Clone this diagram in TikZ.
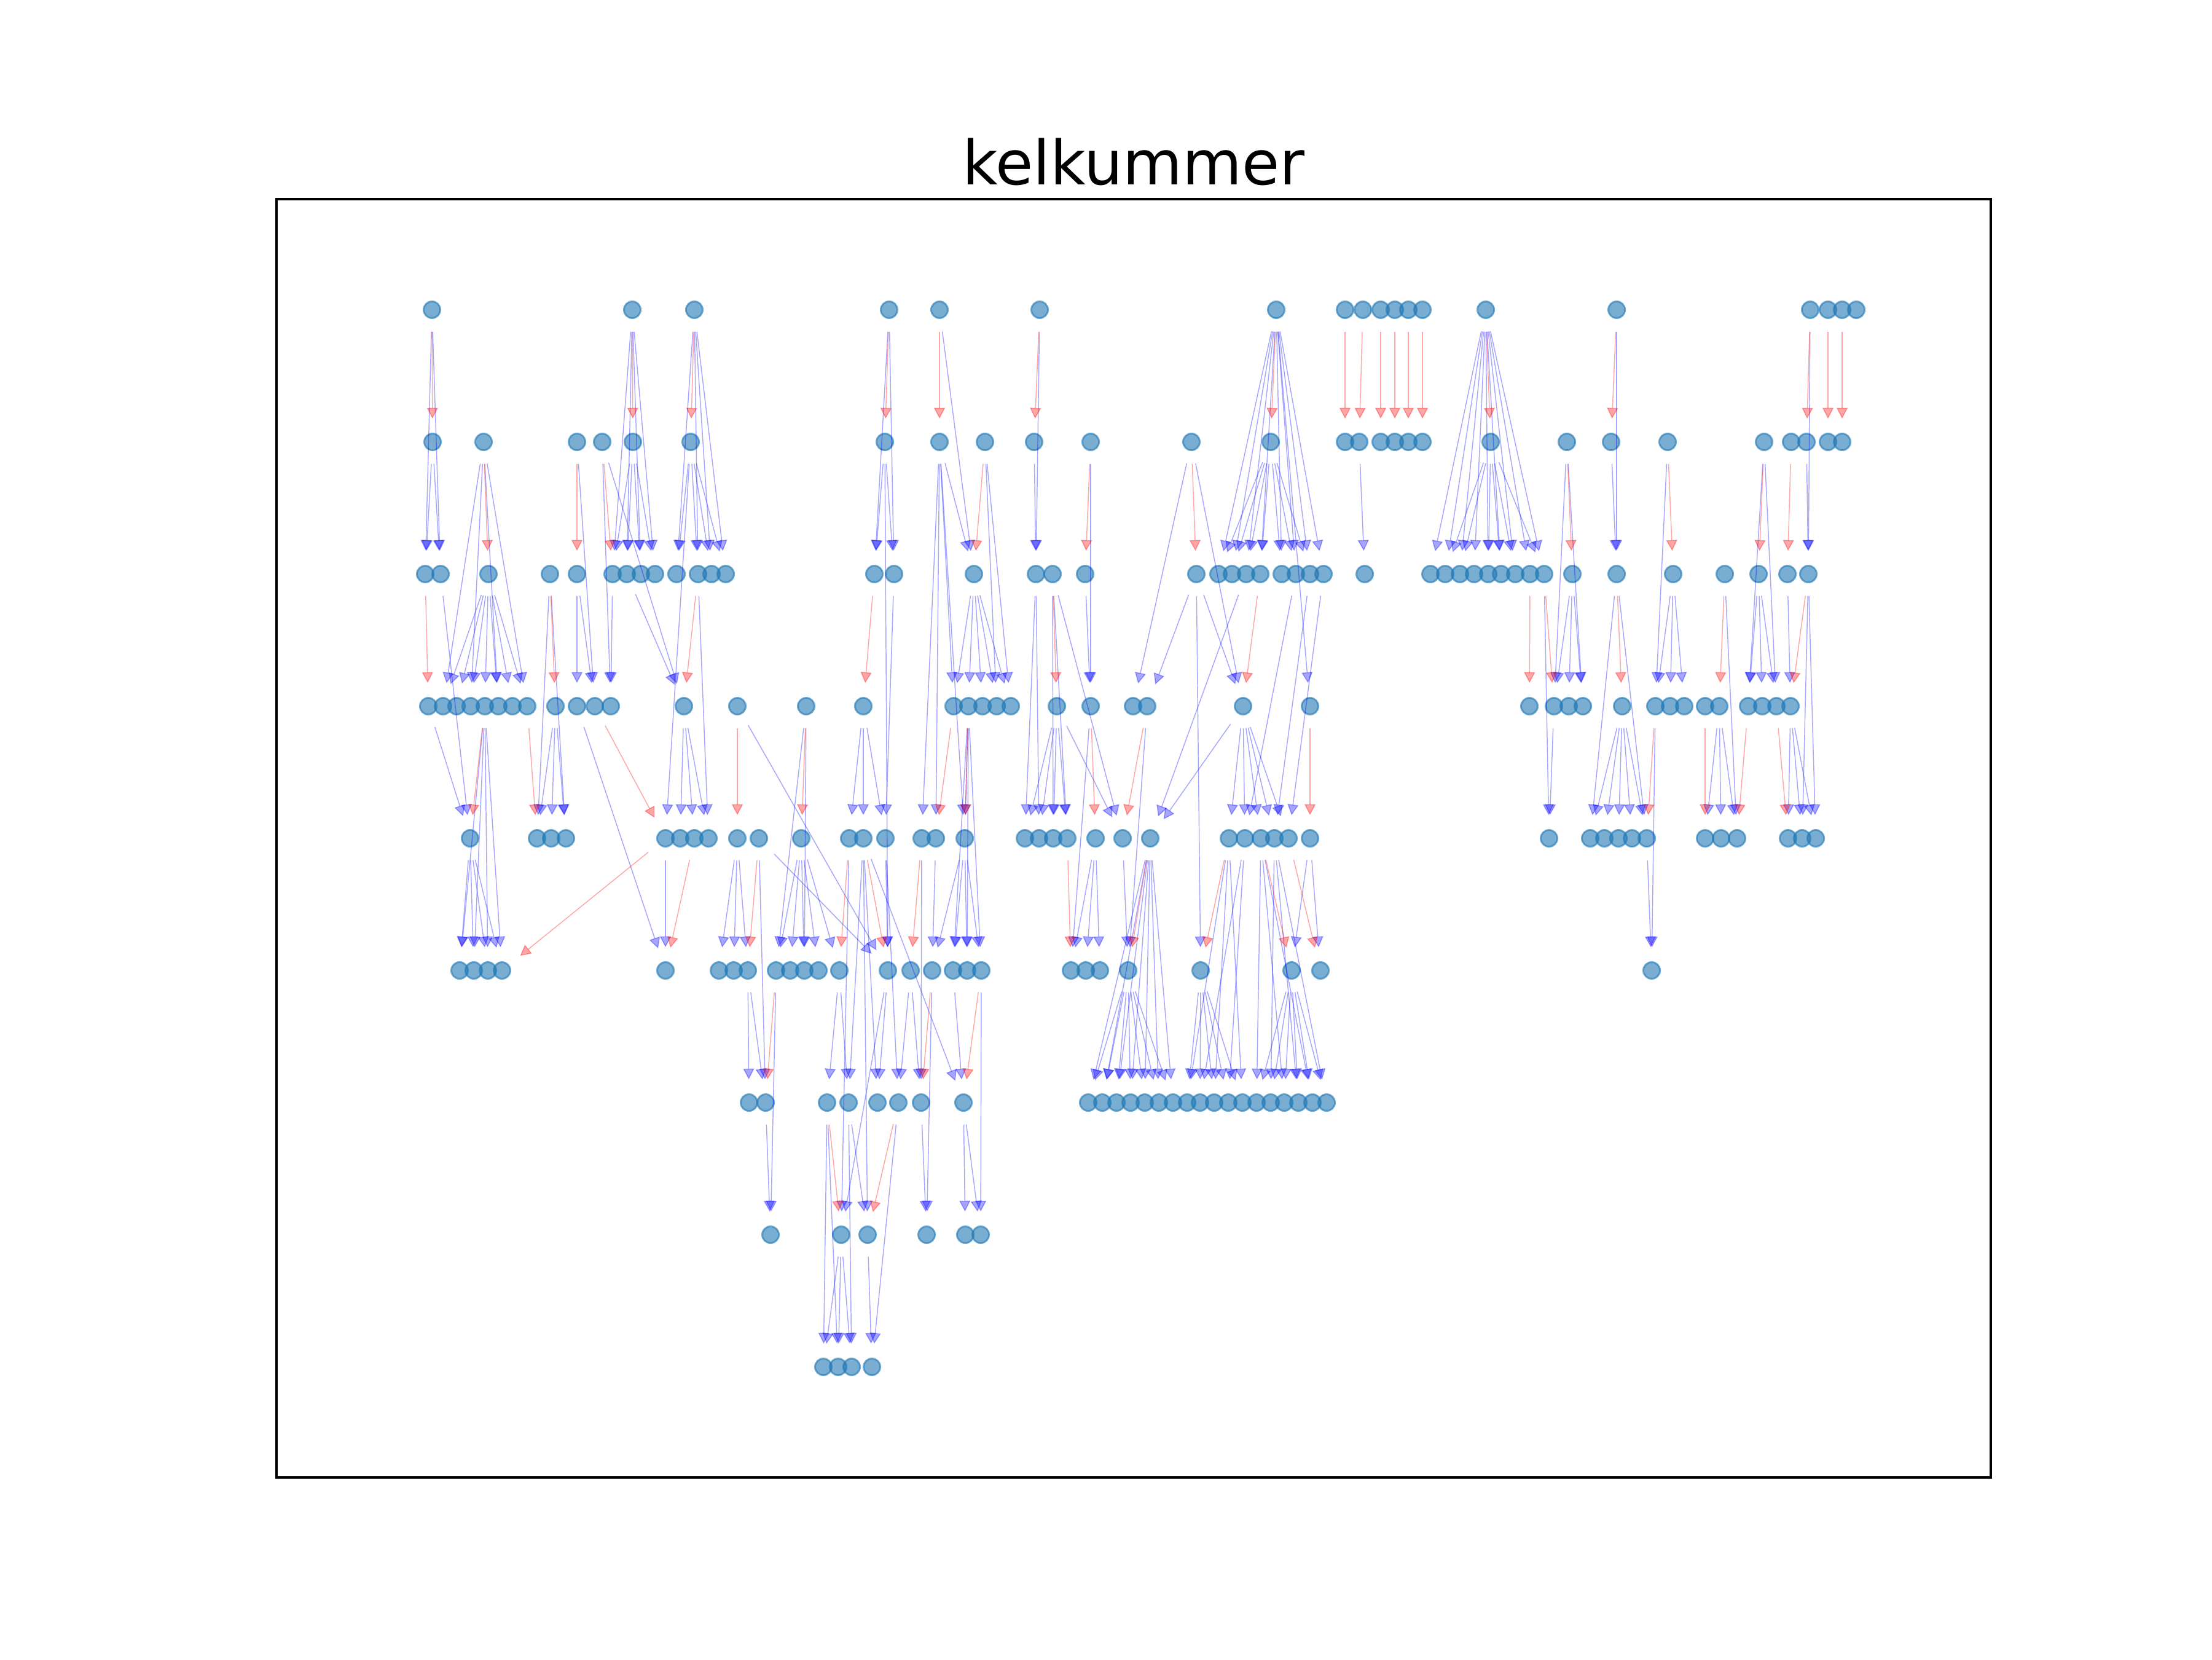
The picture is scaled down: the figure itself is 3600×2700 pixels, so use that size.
\documentclass[tikz,border=0pt]{standalone}
\usepackage{fontspec}
\setmainfont{DejaVu Sans}
\usepackage{xcolor}
\definecolor{nodeBlue}{HTML}{1F77B4}
\usepackage{tikz}
\usetikzlibrary{arrows.meta}

\begin{document}
\begin{tikzpicture}[
      x=0.0084667cm, y=-0.0084667cm,
      vtx/.style={circle,inner sep=0pt,minimum size=2.3mm,
                  fill=nodeBlue,draw=nodeBlue,line width=0.7pt,
                  fill opacity=0.6,draw opacity=0.6},
      arr/.style={-{Triangle[length=4.2pt,width=4.3pt]},line width=0.35pt,
                  blue,opacity=0.35,shorten <=5pt,shorten >=5.5pt},
      arrred/.style={arr,red},
    ]
    \useasboundingbox (0,0) rectangle (3600,2700);

    % Frame and title
    \draw[line width=0.8pt] (450,324) rectangle (3240,2404);
    \node[anchor=base,font=\fontsize{24}{28}\selectfont] (title) at (1845,300) {kelkummer};

    % Node layout, one row at a time
    \foreach \x in {703,1029,1130,1447,1529,1692,2077,2189,2218,2247,2270,2292,2315,2418,2631,2946,2975,2998,3021}
      \node[vtx] (a\x) at (\x,504) {};
    \foreach \x in {704,787,939,980,1030,1124,1440,1529,1603,1683,1775,1939,2068,2189,2212,2247,2270,2292,2315,2426,2550,2622,2714,2871,2915,2940,2975,2998}
      \node[vtx] (b\x) at (\x,719) {};
    \foreach \x in {692,717,795,895,939,997,1020,1043,1066,1101,1136,1158,1181,1423,1455,1585,1686,1713,1766,1947,1983,2005,2028,2051,2086,2109,2132,2154,2221,2328,2352,2376,2399,2422,2443,2466,2490,2513,2559,2631,2723,2807,2862,2909,2943}
      \node[vtx] (c\x) at (\x,934) {};
    \foreach \x in {697,721,743,766,789,811,834,858,904,939,968,994,1113,1200,1312,1405,1552,1576,1599,1622,1645,1720,1775,1844,1867,2023,2132,2489,2529,2553,2576,2640,2694,2718,2741,2775,2798,2845,2868,2891,2914}
      \node[vtx] (d\x) at (\x,1149) {};
    \foreach \x in {765,874,897,921,1083,1107,1130,1153,1200,1235,1304,1382,1405,1441,1500,1523,1570,1668,1691,1714,1737,1783,1827,1872,2000,2026,2052,2074,2097,2132,2521,2588,2611,2634,2656,2680,2775,2801,2827,2910,2933,2955}
      \node[vtx] (e\x) at (\x,1364) {};
    \foreach \x in {748,771,794,817,1083,1170,1194,1217,1263,1286,1309,1332,1366,1445,1482,1517,1551,1574,1597,1743,1767,1790,1836,1954,2102,2149,2688}
      \node[vtx] (f\x) at (\x,1579) {};
    \foreach \x in {1219,1246,1346,1381,1428,1462,1499,1568,1771,1794,1817,1840,1863,1886,1909,1932,1953,1976,1999,2022,2045,2068,2090,2113,2136,2159}
      \node[vtx] (g\x) at (\x,1794) {};
    \foreach \x in {1254,1369,1412,1508,1571,1596}
      \node[vtx] (h\x) at (\x,2009) {};
    \foreach \x in {1340,1364,1386,1419}
      \node[vtx] (i\x) at (\x,2224) {};

    % Arrow connections (blue fans)
    \foreach \s/\ts in {
        a703/{c692,c717}, b704/{c692,c717},
        a1029/{c997,c1020,c1043,c1066}, b1030/{c997,c1020,c1043,c1066},
        a1130/{c1101,c1136,c1158,c1181}, b1124/{c1101,c1136,c1158,c1181,e1083},
        a1447/{c1423,c1455}, b1440/{c1423,c1455,f1445},
        a1529/{c1585}, b1529/{c1585,d1552,e1500,e1523,e1570},
        a1692/{c1686}, b1683/{c1686},
        a2077/{c1983,c2005,c2028,c2051,c2086,c2109,c2132,c2154,d2132},
        b2068/{c1983,c2005,c2028,c2051,c2086,c2109,c2132},
        a2418/{c2328,c2352,c2376,c2399,c2422,c2443,c2466,c2490,c2513},
        b2426/{c2352,c2376,c2422,c2443,c2466,c2513},
        a2631/{c2631}, b2622/{c2631}, a2946/{c2943}, b2940/{c2943},
        b787/{d721,d766,d811,d858}, b939/{d968}, b980/{d994,d1113},
        b1603/{d1622,d1645}, b1775/{d1775}, b1939/{d1844,d2023}, b2212/{c2221},
        b2550/{d2529,d2576}, b2714/{d2694}, b2871/{d2845,d2891},
        c717/{e765}, c795/{d721,d743,d766,d789,d811,d834,d858}, c895/{e874,e921},
        c939/{d939,d968}, c997/{d994}, c1020/{d1113}, c1136/{e1153}, c1455/{e1441},
        c1585/{d1552,d1576,d1599,d1622,d1645}, c1686/{e1668,e1691}, c1713/{e1714,e1737,e1827},
        c1766/{d1775}, c1947/{d1867,d2023,f1954}, c2028/{e1872}, c2109/{e2026},
        c2132/{e2074}, c2154/{e2097},
        c2513/{e2521}, c2559/{d2529,d2553,d2576}, c2631/{e2588,e2680}, c2723/{d2694,d2718,d2741},
        c2807/{e2827}, c2862/{d2845,d2868,d2891}, c2909/{d2914}, c2943/{e2933,e2955},
        d697/{e765}, d789/{f748,f771,f794,f817}, d904/{e874,e897,e921}, d939/{f1083},
        d1113/{e1107,e1130,e1153}, d1200/{f1445}, d1312/{f1263,f1309}, d1405/{e1382,e1405,e1441},
        d1576/{e1570,f1551,f1574,f1597}, d1720/{e1668,e1691,e1714,e1737,e1827},
        d1775/{f1743}, d1867/{f1836},
        d2023/{e1872,e2000,e2026,e2052,e2074,e2097}, d2529/{e2521},
        d2640/{e2588,e2611,e2634,e2656,e2680},
        d2694/{f2688}, d2798/{e2775,e2801,e2827}, d2914/{e2910,e2933,e2955},
        e765/{f748,f771,f794,f817}, e1083/{f1083}, e1200/{f1170,f1194,f1217}, e1235/{f1445,g1246},
        e1304/{f1263,f1286,f1309,f1332,f1366}, e1382/{h1369}, e1405/{g1381,g1428,g1568,h1412},
        e1441/{f1445,g1462},
        e1500/{g1499}, e1523/{f1517}, e1570/{f1517,f1551,f1574,f1597},
        e1783/{f1743,f1767,f1790}, e1827/{f1836},
        e1872/{g1771,g1794,g1817,g1840,g1863,g1886,g1909},
        e2000/{g1932,g1976,g2022}, e2026/{g1953,g1999},
        e2052/{g2045,g2090,g2136}, e2074/{g2068,g2113,g2159},
        e2132/{f2102,f2149}, e2680/{f2688},
        f1217/{g1219,g1246}, f1263/{h1254}, f1366/{g1346,g1381}, f1445/{g1428,h1369},
        f1482/{g1462,g1499}, f1517/{h1508}, f1551/{g1568}, f1597/{h1596},
        f1836/{g1771,g1794,g1817,g1840,g1863,g1886,g1909},
        f1954/{g1932,g1953,g1976,g1999,g2022},
        f2102/{g2045,g2068,g2090,g2113,g2136,g2159},
        g1246/{h1254}, g1346/{i1340,i1364}, g1381/{h1412,i1386}, g1462/{i1419},
        g1499/{h1508}, g1568/{h1571,h1596},
        h1369/{i1340,i1364,i1386}, h1412/{i1419}}
      \foreach \t in \ts
        \draw[arr] (\s) -- (\t);

    % Arrow connections (red)
    \foreach \s/\t in {
        a703/b704, a1029/b1030, a1130/b1124, a1447/b1440, a1529/b1529, a1692/b1683,
        a2077/b2068, a2189/b2189, a2218/b2212, a2247/b2247, a2270/b2270, a2292/b2292,
        a2315/b2315, a2418/b2426, a2631/b2622, a2946/b2940, a2975/b2975, a2998/b2998,
        b787/c795, b939/c939, b980/c997, b1603/c1585, b1775/c1766, b1939/c1947,
        b2550/c2559, b2714/c2723, b2871/c2862, b2915/c2909,
        c692/d697, c895/d904, c1136/d1113, c1423/d1405, c1713/d1720, c2051/d2023,
        c2490/d2489, c2513/d2529, c2631/d2640, c2807/d2798, c2943/d2914,
        d789/e765, d858/e874, d968/e1083, d1200/e1200, d1312/e1304, d1552/e1523,
        d1576/e1570, d1775/e1783, d1867/e1827, d2132/e2132, d2694/e2680, d2775/e2775,
        d2845/e2827, d2891/e2910,
        e1083/f817, e1130/f1083, e1235/f1217, e1382/f1366, e1405/f1445, e1500/f1482,
        e1737/f1743, e1872/f1836, e2000/f1954, e2052/f2102, e2097/f2149,
        f1263/g1246, f1517/g1499, f1597/g1568,
        g1346/h1369, g1462/h1412}
      \draw[arrred] (\s) -- (\t);

  \end{tikzpicture}
\end{document}
